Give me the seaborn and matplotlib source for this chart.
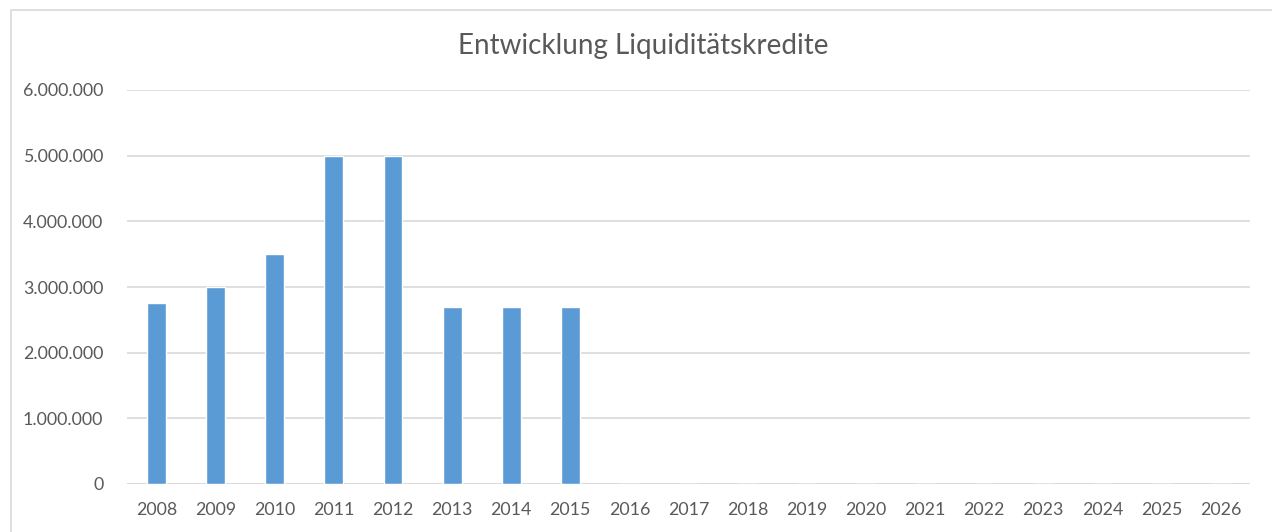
import pandas as pd
import seaborn as sns
import matplotlib.pyplot as plt
from matplotlib.patches import Rectangle
from matplotlib.ticker import FuncFormatter

# data
years = [str(y) for y in range(2008, 2027)]
values = [2750000, 3000000, 3500000, 5000000, 5000000, 2700000, 2700000, 2700000] + [0] * 11

df = pd.DataFrame({'Jahr': years, 'Betrag': values})

sns.set_theme(style='white')
plt.rcParams['font.family'] = ['Lato', 'DejaVu Sans']

fig = plt.figure(figsize=(12.72, 5.32), dpi=100)
ax = fig.add_axes([127 / 1272, 48 / 532, (1250 - 127) / 1272, (484 - 90) / 532])

sns.barplot(data=df, x='Jahr', y='Betrag', color='#5B9BD5', saturation=1,
            width=0.32, ax=ax, zorder=3)

ax.set_ylim(0, 6000000)
ax.set_xlim(-0.5, len(years) - 0.5)
ax.set_yticks(range(0, 6000001, 1000000))
ax.yaxis.set_major_formatter(FuncFormatter(lambda v, p: f'{int(v):,}'.replace(',', '.')))
ax.grid(axis='y', color='#D9D9D9', linewidth=1.2, zorder=0)
ax.set_axisbelow(True)
for s in ax.spines.values():
    s.set_visible(False)
ax.axhline(0, color='#D9D9D9', linewidth=1.2, zorder=1)
ax.set_xlabel('')
ax.set_ylabel('')
ax.tick_params(axis='both', length=0, labelsize=12.8, labelcolor='#595959')
ax.tick_params(axis='y', pad=17)
ax.tick_params(axis='x', pad=13)

fig.text(643.5 / 1272, 1 - 46 / 532, 'Entwicklung Liquiditätskredite', ha='center', va='center',
         fontsize=20, color='#595959')

# chart frame
fig.patches.append(Rectangle((11 / 1272, -0.1), 1.2, (532 - 10) / 532 + 0.1,
                             transform=fig.transFigure, fill=False,
                             edgecolor='#D9D9D9', linewidth=1.2))

fig.savefig('out.png', dpi=100)
